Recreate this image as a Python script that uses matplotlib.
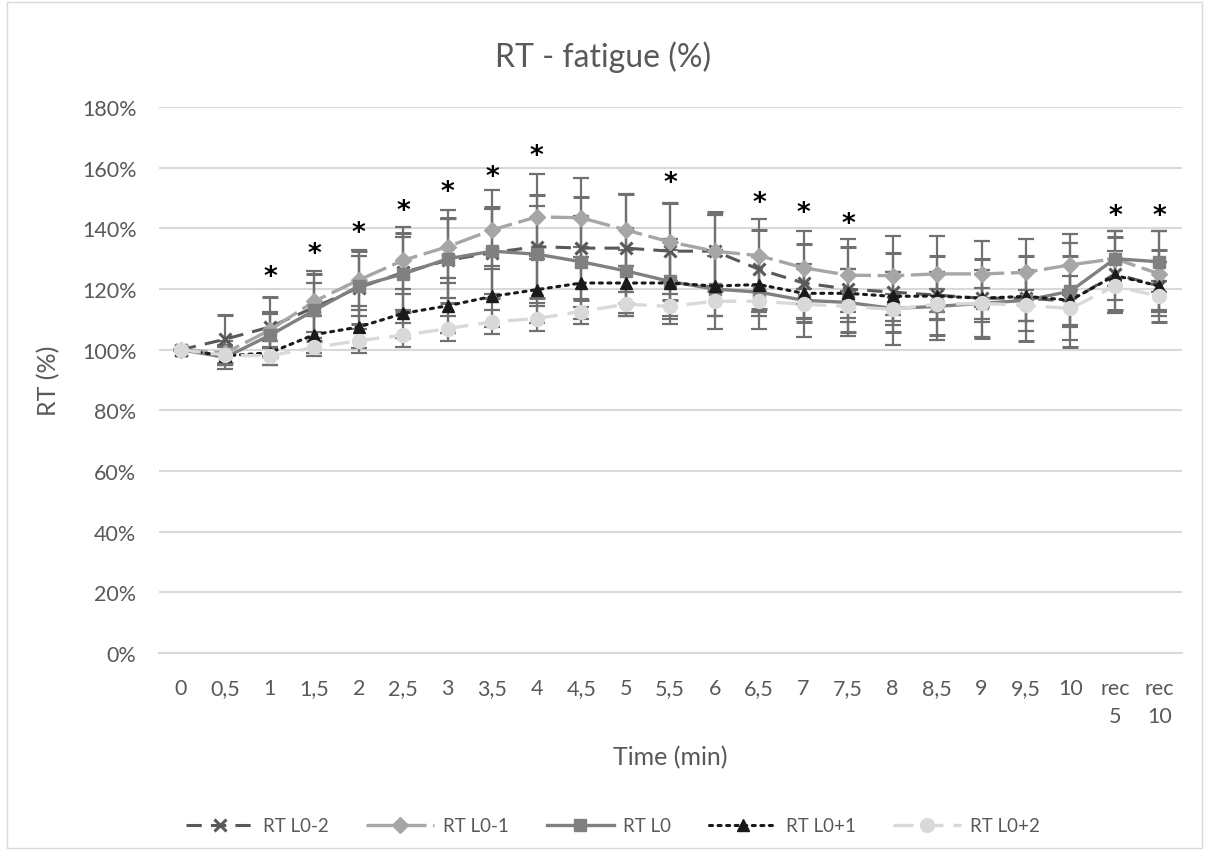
import matplotlib
matplotlib.use("Agg")
import matplotlib.pyplot as plt
from matplotlib.patches import Rectangle

plt.rcParams['font.family'] = ['Lato', 'DejaVu Sans']

categories = ['0', '0,5', '1', '1,5', '2', '2,5', '3', '3,5', '4', '4,5', '5', '5,5',
              '6', '6,5', '7', '7,5', '8', '8,5', '9', '9,5', '10', 'rec\n5', 'rec\n10']

rt_l0m2 = [100, 103.5, 107.5, 114, 120.5, 125.5, 129.5, 132, 134, 133.5, 133.5, 132.5,
           132.5, 126.5, 122, 120, 119, 118, 117, 117, 116, 125, 121]
rt_l0m1 = [100, 99, 106.5, 116, 123, 129.5, 134, 139.5, 143.8, 143.5, 139.5, 135.5,
           132.5, 131, 127, 124.6, 124.4, 125, 125, 125.5, 128, 130, 125]
rt_l0 = [100, 97.5, 104.8, 113, 121, 125, 130, 132.5, 131.5, 129, 126, 122.5,
         120, 119, 116.3, 115.6, 113.6, 114.3, 115.3, 116.3, 119.3, 130, 129]
rt_l0p1 = [100, 98, 99, 105, 107.5, 112, 114.5, 117.6, 119.8, 122, 122, 122,
           121, 121.5, 118.6, 118.6, 117.6, 117.7, 117, 117.6, 116.3, 124.5, 121]
rt_l0p2 = [100, 98.2, 98, 100.8, 103, 104.8, 107, 109.2, 110.3, 112.6, 115, 114.3,
           116, 116, 115, 114.3, 113.3, 115, 115.3, 114.6, 113.6, 121, 117.6]

err_l0m2 = [0, 8, 10, 11, 12, 13, 14, 15, 17, 17, 18, 16, 13, 13, 13, 14, 13, 13, 13, 14, 15, 12, 12]
err_l0m1 = [0, 4, 6, 10, 10, 11, 12, 13, 14, 13, 12, 13, 12, 12, 12, 12, 13, 12.5, 11, 11, 10, 9, 14]
err_l0 = [0, 4, 7, 9, 10, 12, 13, 14, 16, 15, 14, 14, 13, 12, 12, 11, 12, 11, 11, 10, 16, 9, 10]
err_l0p1 = [0, 3, 4, 6, 7, 8, 9, 10, 11, 12, 11, 11, 10, 9, 8, 8, 8, 8, 8, 8, 8, 8, 8]
err_l0p2 = [0, 3, 3, 3, 4, 4, 4, 4, 4, 4, 4, 4, 5, 5, 5, 5, 5, 5, 5, 5, 6, 9, 5]

star_idx = [2, 3, 4, 5, 6, 7, 8, 11, 13, 14, 15, 21, 22]
star_y = [124, 131.5, 138.5, 145.6, 151.9, 157, 164, 155, 148.3, 145, 141.3, 144, 144]

x = list(range(len(categories)))

fig = plt.figure(figsize=(12.07, 8.54), dpi=100)
ax = fig.add_axes([0.1315, 0.234, 0.8475, 0.6395])

ecol = '#707070'
ekw = dict(ecolor=ecol, elinewidth=1.6, capsize=6, capthick=1.6)

ax.errorbar(x, rt_l0m2, yerr=err_l0m2, color='#595959', lw=2.2, ls=(0, (5, 3)),
            marker='x', ms=8, mew=2.2, label='RT L0-2', **ekw)
ax.errorbar(x, rt_l0m1, yerr=err_l0m1, color='#a6a6a6', lw=2.4, ls=(0, (8, 2)),
            marker='D', ms=8, label='RT L0-1', **ekw)
ax.errorbar(x, rt_l0, yerr=err_l0, color='#808080', lw=2.4, ls='-',
            marker='s', ms=9, label='RT L0', **ekw)
ax.errorbar(x, rt_l0p1, yerr=err_l0p1, color='#1a1a1a', lw=2.2, ls=(0, (1, 1.8)),
            dash_capstyle='round', marker='^', ms=9, label='RT L0+1', **ekw)
ax.errorbar(x, rt_l0p2, yerr=err_l0p2, color='#d9d9d9', lw=2.4, ls=(0, (6, 3)),
            marker='o', ms=10, label='RT L0+2', **ekw)

for i, yv in zip(star_idx, star_y):
    ax.text(x[i], yv, '*', ha='center', va='center', fontsize=19, fontweight='bold',
            color='black', family='DejaVu Sans')

ax.set_xlim(-0.5, len(categories) - 0.5)
ax.set_ylim(0, 180)
ax.set_yticks(range(0, 181, 20))
ax.set_yticklabels([f'{v}%' for v in range(0, 181, 20)])
ax.set_xticks(x)
ax.set_xticklabels(categories, linespacing=1.5)
ax.grid(axis='y', color='#d9d9d9', lw=1.5)
ax.set_axisbelow(True)
for s in ['top', 'right', 'left']:
    ax.spines[s].set_visible(False)
ax.spines['bottom'].set_color('#d9d9d9')
ax.spines['bottom'].set_linewidth(1.5)
ax.tick_params(length=0, labelsize=15.5, labelcolor='#595959')
ax.tick_params(axis='y', pad=16)
ax.tick_params(axis='x', pad=18)

fig.text(0.5, 1 - 57 / 854, 'RT - fatigue (%)', ha='center', va='center',
         fontsize=23, color='#595959')
ax.set_xlabel('Time (min)', fontsize=18, color='#595959')
ax.xaxis.set_label_coords(0.5, -0.189)
ax.xaxis.label.set_va('center')
ax.set_ylabel('RT (%)', fontsize=18, color='#595959')
ax.yaxis.set_label_coords(-0.108, 0.5)
ax.yaxis.label.set_va('center')

handles, labels = ax.get_legend_handles_labels()
handles = [h[0] for h in handles]
fig.legend(handles, labels, loc='center', bbox_to_anchor=(0.508, 1 - 827 / 854), ncol=5,
           frameon=False, fontsize=13.5, labelcolor='#595959', handlelength=3.6,
           handletextpad=0.5, columnspacing=2.0)

fig.add_artist(Rectangle((0.006, 0.006), 0.99, 0.99, transform=fig.transFigure,
                         fill=False, edgecolor='#d9d9d9', lw=1))

fig.savefig('out.png', dpi=100)
